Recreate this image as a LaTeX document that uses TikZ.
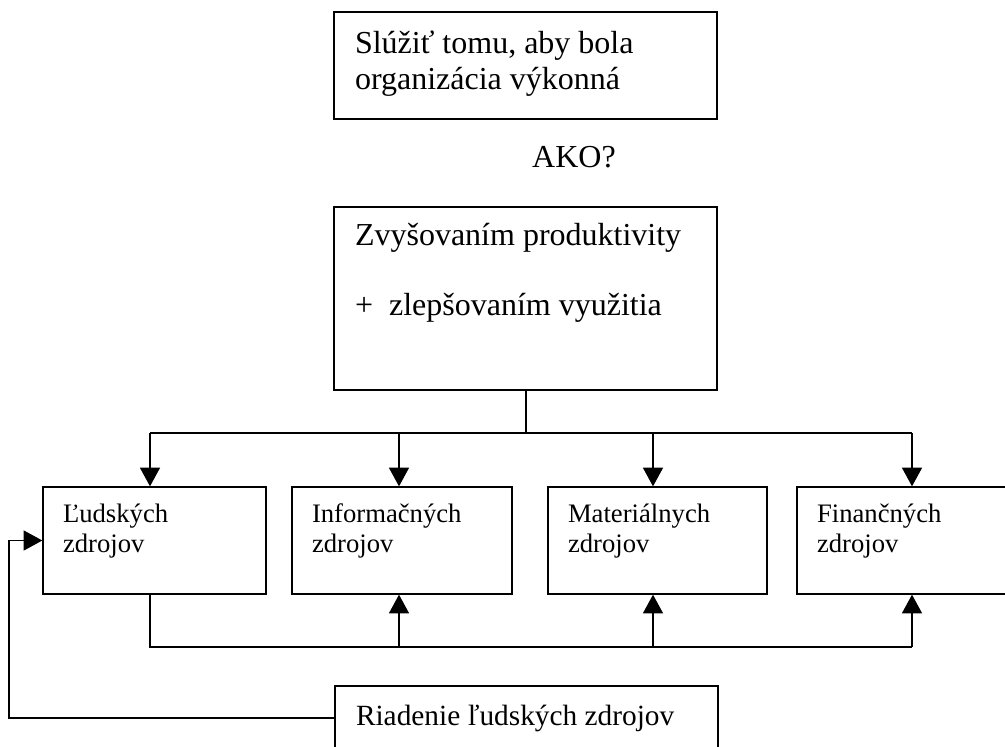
\documentclass[tikz,border=0pt]{standalone}
\usepackage{fontspec}
\setmainfont{Liberation Serif}
\usetikzlibrary{arrows.meta,positioning}
\newcommand{\topsize}{\fontsize{24}{27}\selectfont}
\newcommand{\ressize}{\fontsize{20}{22.5}\selectfont}
\newcommand{\riadsize}{\fontsize{22}{26}\selectfont}
\tikzset{
        % boxes are drawn empty, their texts sit in the upper left corner
        res box/.style={draw, line width=1pt, inner sep=0pt, minimum height=80.25pt},
        res text/.style={anchor=north west, inner sep=0pt, align=left},
        arr/.style={-{Triangle[length=14pt,width=15pt]}, line width=1pt}
    }
\begin{document}
\begin{tikzpicture}[x=0.75pt,y=-0.75pt,line width=1pt]
\path[use as bounding box, fill=white] (0,0) rectangle (1005,746);

%Shape: Rectangle [aim]
\node[res box, minimum width=287.25pt] (aim) at (525.5,65.5) {};
%Shape: Rectangle [zvys]
\node[res box, minimum width=287.25pt, minimum height=137.25pt] (zvys) at (525.5,298.5) {};
%Shape: Rectangles [resources]
\node[res box, minimum width=167.25pt] (lud) at (154.5,540.5) {};
\node[res box, minimum width=165pt] (inf) at (402,540.5) {};
\node[res box, minimum width=164.25pt] (mat) at (657.5,540.5) {};
\node[res box, minimum width=165pt] (fin) at (907,540.5) {};
%Shape: Rectangle [riad]
\node[res box, minimum width=287.25pt, minimum height=67.5pt] (riad) at (526.5,731) {};

% Text Node
\node[res text, font=\topsize] (aim txt) at ([shift={(21,19)}]aim.north west) {Slúžiť tomu, aby bola\\organizácia výkonná};
% Text Node
\node[anchor=base, inner sep=0pt, font=\topsize] (ako) at (574,167) {AKO?};
% Text Node
\node[res text, font=\topsize] (zvys txt) at ([shift={(21,16)}]zvys.north west) {Zvyšovaním produktivity\\[25.5pt]+~~zlepšovaním využitia};
% Text Nodes
\node[res text, font=\ressize] (lud txt) at ([shift={(20,17)}]lud.north west) {Ľudských\\zdrojov};
\node[res text, font=\ressize] (inf txt) at ([shift={(20,17)}]inf.north west) {Informačných\\zdrojov};
\node[res text, font=\ressize] (mat txt) at ([shift={(20,17)}]mat.north west) {Materiálnych\\zdrojov};
\node[res text, font=\ressize] (fin txt) at ([shift={(20,17)}]fin.north west) {Finančných\\zdrojov};
% Text Node
\node[res text, font=\riadsize] (riad txt) at ([shift={(21,19)}]riad.north west) {Riadenie ľudských zdrojov};

%Straight Lines [upper bus]
\coordinate (d0) at (526,433);
\coordinate (d1) at (150,433);
\coordinate (d2) at (399,433);
\coordinate (d3) at (653,433);
\coordinate (d4) at (912,433);
\draw (d0 |- zvys.south) -- (d0);
\draw (d1) -- (d4);
\foreach \i/\b in {1/lud,2/inf,3/mat,4/fin}
    \draw[arr] (d\i) -- (d\i |- \b.north);

%Straight Lines [lower bus]
\coordinate (u1) at (150,647);
\coordinate (u2) at (399,647);
\coordinate (u3) at (653,647);
\coordinate (u4) at (912,647);
\draw (u1 |- lud.south) -- (u1) -- (u4);
\foreach \i/\b in {2/inf,3/mat,4/fin}
    \draw[arr] (u\i) -- (u\i |- \b.south);

%Straight Lines [feedback]
\coordinate (fb) at (9,718);
\draw[arr] (riad.west |- fb) -- (fb) |- (lud.west);

\end{tikzpicture}
\end{document}
